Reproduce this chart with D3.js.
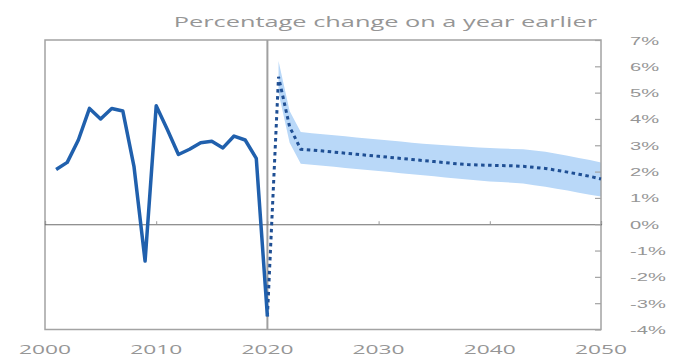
<!DOCTYPE html>
<html>
<head>
<meta charset="utf-8">
<script src="https://cdn.jsdelivr.net/npm/d3@7"></script>
<style>
  body { margin: 0; background: #fff; }
  svg { display: block; font-family: "Open Sans", sans-serif; }
</style>
</head>
<body>
<svg width="674" height="358"></svg>
<script>
const width = 674, height = 358;
const svg = d3.select("svg");

const title = "Percentage change on a year earlier";

// outturn
const histYears = [2001, 2002, 2003, 2004, 2005, 2006, 2007, 2008, 2009, 2010,
  2011, 2012, 2013, 2014, 2015, 2016, 2017, 2018, 2019, 2020];
const histValues = [2.08, 2.35, 3.2, 4.4, 4.0, 4.4, 4.3, 2.2, -1.4, 4.5,
  3.6, 2.65, 2.85, 3.1, 3.15, 2.9, 3.35, 3.2, 2.5, -3.5];

// central projection
const projYears = [2020, 2021, 2022, 2023, 2024, 2025, 2026, 2027, 2028, 2029, 2030,
  2031, 2032, 2033, 2034, 2035, 2036, 2037, 2038, 2039, 2040,
  2041, 2042, 2043, 2044, 2045, 2046, 2047, 2048, 2049, 2050];
const projValues = [-3.5, 5.6, 3.7, 2.85, 2.82, 2.78, 2.74, 2.7, 2.66, 2.62, 2.58,
  2.54, 2.5, 2.46, 2.42, 2.38, 2.34, 2.3, 2.27, 2.25, 2.24,
  2.23, 2.22, 2.2, 2.16, 2.12, 2.05, 1.98, 1.9, 1.82, 1.72];

// uncertainty band
const bandYears = projYears.slice(1);
const bandUpper = [6.2, 4.3, 3.5, 3.46, 3.42, 3.38, 3.34, 3.3, 3.26, 3.22,
  3.18, 3.14, 3.1, 3.06, 3.03, 3.0, 2.97, 2.94, 2.92, 2.9,
  2.88, 2.86, 2.85, 2.8, 2.75, 2.68, 2.6, 2.52, 2.44, 2.35];
const bandLower = [5.0, 3.1, 2.3, 2.26, 2.22, 2.18, 2.14, 2.1, 2.06, 2.02,
  1.98, 1.94, 1.9, 1.86, 1.82, 1.78, 1.74, 1.7, 1.66, 1.62,
  1.6, 1.58, 1.55, 1.48, 1.42, 1.35, 1.28, 1.2, 1.12, 1.05];

const xTicks = [2000, 2010, 2020, 2030, 2040, 2050];
const yTicks = [-4, -3, -2, -1, 0, 1, 2, 3, 4, 5, 6, 7];

const plot = { left: 45, right: 601, top: 40, bottom: 329.5 };

const x = d3.scaleLinear().domain([2000, 2050]).range([plot.left, plot.right]);
const y = d3.scaleLinear().domain([-4, 7]).range([plot.bottom, plot.top]);

const grey = "#a3a3a3", textGrey = "#969696";

// band
const area = d3.area()
  .x((d, i) => x(bandYears[i]))
  .y0((d, i) => y(bandLower[i]))
  .y1(d => y(d));
svg.append("path")
  .attr("d", area(bandUpper))
  .attr("fill", "#b9d8f8");

// frame
svg.append("rect")
  .attr("x", plot.left).attr("y", plot.top)
  .attr("width", plot.right - plot.left).attr("height", plot.bottom - plot.top)
  .attr("fill", "none").attr("stroke", grey).attr("stroke-width", 1.5);

// 2020 marker
svg.append("line")
  .attr("x1", x(2020)).attr("x2", x(2020))
  .attr("y1", plot.top).attr("y2", plot.bottom)
  .attr("stroke", "#a0a0a0").attr("stroke-width", 2);

// zero axis with decade ticks
const xAxis = svg.append("g")
  .attr("transform", `translate(0,${y(0)})`)
  .call(d3.axisTop(x).tickValues(xTicks).tickSize(3).tickFormat(""));
xAxis.select(".domain").attr("stroke", "#6e6e6e").attr("stroke-width", 1.2);
xAxis.selectAll(".tick line").attr("stroke", "#9a9a9a");

// right axis
const yAxis = svg.append("g")
  .attr("transform", `translate(${plot.right},0)`)
  .call(d3.axisLeft(y).tickValues(yTicks).tickSize(6).tickFormat(d => d + "%"));
yAxis.select(".domain").remove();
yAxis.selectAll(".tick line").attr("stroke", grey).attr("stroke-width", 1.2);
yAxis.selectAll(".tick text")
  .attr("x", null).attr("dy", "0.35em")
  .attr("text-anchor", "start")
  .attr("transform", `translate(${630 - plot.right},0) scale(1.75,1)`)
  .attr("fill", textGrey)
  .style("font-size", "11.5px");

// year labels along the bottom
svg.selectAll(".xlab")
  .data(xTicks)
  .join("text")
  .attr("class", "xlab")
  .attr("transform", d => `translate(${x(d)},354) scale(1.75,1)`)
  .attr("text-anchor", "middle")
  .attr("fill", textGrey)
  .style("font-size", "13px")
  .text(d => d);

// title
svg.append("text")
  .attr("transform", `translate(597,27) scale(1.81,1)`)
  .attr("text-anchor", "end")
  .attr("fill", textGrey)
  .style("font-size", "14px")
  .text(title);

// projection
const line = d3.line().x(d => x(d[0])).y(d => y(d[1]));
svg.append("path")
  .attr("d", line(projYears.map((yr, i) => [yr, projValues[i]])))
  .attr("fill", "none")
  .attr("stroke", "#1f4f94")
  .attr("stroke-width", 3)
  .attr("stroke-dasharray", "3.5,3.5");

// outturn
svg.append("path")
  .attr("d", line(histYears.map((yr, i) => [yr, histValues[i]])))
  .attr("fill", "none")
  .attr("stroke", "#2060ad")
  .attr("stroke-width", 3.5)
  .attr("stroke-linejoin", "round");
</script>
</body>
</html>
